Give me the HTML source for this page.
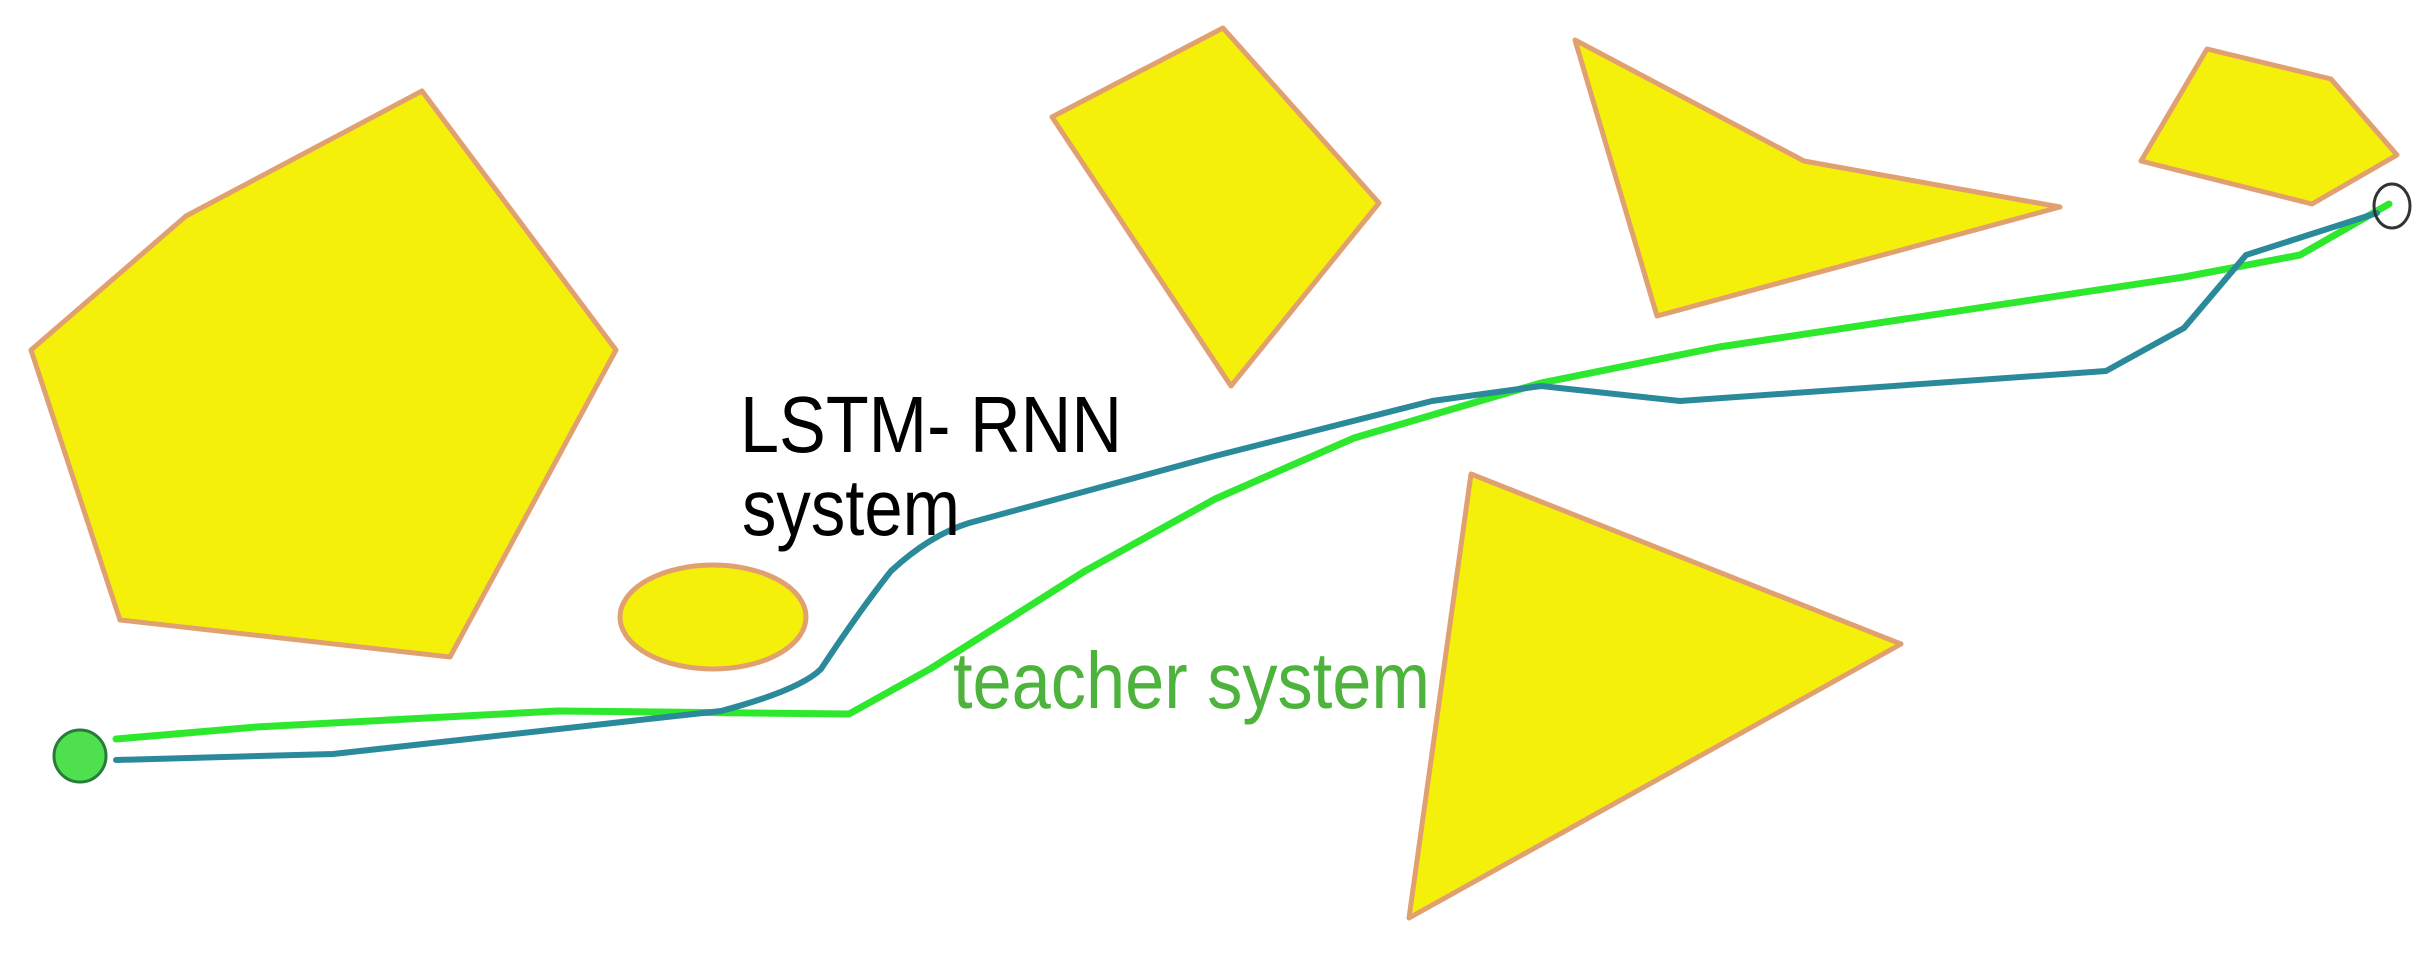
<!DOCTYPE html>
<html><head><meta charset="utf-8"><style>html,body{margin:0;padding:0;background:#fff}</style></head>
<body>
<svg width="2430" height="953" viewBox="0 0 2430 953" xmlns="http://www.w3.org/2000/svg">
<g fill="#f5f00a" stroke="#e0a070" stroke-width="5" stroke-linejoin="round">
<polygon points="31,350 186,216 422,91 616,350 450,657 120,620"/>
<ellipse cx="713" cy="617" rx="93" ry="52"/>
<polygon points="1052,117 1223,28 1379,203 1231,386"/>
<polygon points="1575,40 1804,161 2060,207 1657,316"/>
<polygon points="2207,49 2331,79 2397,155 2312,204 2141,161"/>
<polygon points="1471,474 1901,644 1409,918"/>
</g>
<g fill="none" stroke-linecap="round" stroke-linejoin="round">
<path d="M116,739 L256,727 L558,711 L849,714 L930,669 L1085,571 L1215,499 L1354,438 L1541,383 L1719,347 L2184,277 L2300,255 L2389,204" stroke="#2ee82e" stroke-width="7"/>
<path d="M116,760 L333,754 L721,711 Q800,690 821,669 Q860,610 891,571 Q930,535 969,523 L1215,456 L1432,401 L1541,386 L1680,401 L2106,371 L2184,328 L2246,255 L2377,213" stroke="#2a8a9a" stroke-width="6"/>
</g>
<circle cx="80" cy="756" r="26" fill="#4ee04e" stroke="#2a7a3a" stroke-width="3"/>
<ellipse cx="2392" cy="206" rx="18" ry="22" fill="none" stroke="#333" stroke-width="3"/>
<g font-family="Liberation Sans, sans-serif" font-size="80">
<text x="740" y="452" fill="#000" textLength="382" lengthAdjust="spacingAndGlyphs">LSTM- RNN</text>
<text x="742" y="535" fill="#000" textLength="218" lengthAdjust="spacingAndGlyphs">system</text>
<text x="953" y="708" fill="#4db33d" textLength="477" lengthAdjust="spacingAndGlyphs">teacher system</text>
</g>
</svg>
</body></html>
